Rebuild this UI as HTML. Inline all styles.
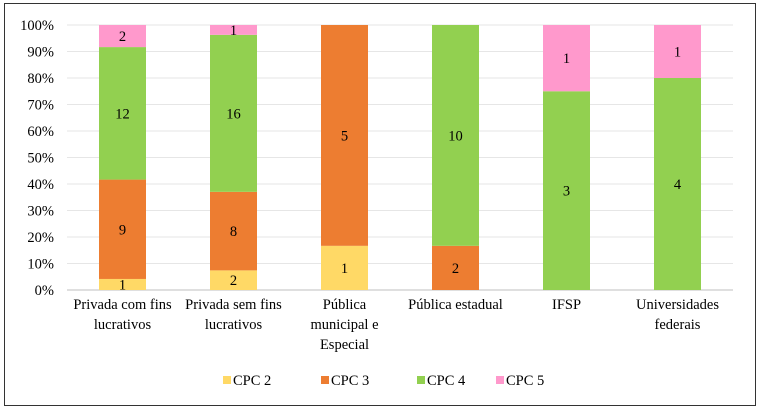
<!DOCTYPE html>
<html><head><meta charset="utf-8"><style>
body{margin:0;background:#fff;}
svg text{font-family:"Liberation Serif",serif;font-size:14.5px;fill:#000;}
</style></head><body>
<svg id="c" width="758" height="409" xmlns="http://www.w3.org/2000/svg">
<rect x="4.5" y="3.5" width="751" height="402" fill="#fff" stroke="#333"/>
<g id="grid"></g><g id="bars"></g><g id="labels"></g><g id="legend"></g>
</svg>
<script>
const categories=[["Privada com fins","lucrativos"],["Privada sem fins","lucrativos"],["Pública","municipal e","Especial"],["Pública estadual"],["IFSP"],["Universidades","federais"]];
const seriesNames=["CPC 2","CPC 3","CPC 4","CPC 5"];
const cpc2=[1,2,1,0,0,0];
const cpc3=[9,8,5,2,0,0];
const cpc4=[12,16,0,10,3,4];
const cpc5=[2,1,0,0,1,1];
const yTicks=["0%","10%","20%","30%","40%","50%","60%","70%","80%","90%","100%"];
const colors=["#FFD966","#ED7D31","#92D050","#FF99CC"];
const series=[cpc2,cpc3,cpc4,cpc5];
const NS="http://www.w3.org/2000/svg";
const x0=67,x1=733,y0=290,y1=25;
const band=(x1-x0)/categories.length;
const xc=i=>x0+band*(i+0.5);
const yp=f=>y0-(y0-y1)*f;
function mk(tag,attrs,parent,txt){const e=document.createElementNS(NS,tag);for(const k in attrs)e.setAttribute(k,attrs[k]);if(txt!==undefined)e.textContent=txt;parent.appendChild(e);return e;}
const grid=document.getElementById('grid'),bars=document.getElementById('bars'),labels=document.getElementById('labels'),legend=document.getElementById('legend');
yTicks.forEach((t,i)=>{const y=yp(i/10);
const l=mk('line',{x1:x0,x2:x1,y1:y,y2:y,stroke:i==0?'#bfbfbf':'#e6e6e6'},grid);


const tx=mk('text',{x:54,y:y+5,'text-anchor':'end'},grid,t);

});
categories.forEach((c,i)=>{const tot=series.reduce((s,a)=>s+a[i],0);let acc=0;
series.forEach((a,k)=>{const v=a[i];if(!v)return;const ya=yp(acc/tot),yb=yp((acc+v)/tot);acc+=v;
const r=mk('rect',{x:xc(i)-23.5,y:yb,width:47,height:ya-yb,fill:colors[k]},bars);


const t=mk('text',{x:xc(i),y:(ya+yb)/2+5,'text-anchor':'middle'},labels,String(v));

});
c.forEach((line,j)=>{const t=mk('text',{x:xc(i),y:309+j*20,'text-anchor':'middle'},labels,line);

});});
const lx=[223,321,417,496];
seriesNames.forEach((n,k)=>{const r=mk('rect',{x:lx[k],y:376,width:8,height:8,fill:colors[k]},legend);


const t=mk('text',{x:lx[k]+10,y:385},legend,n);

});
</script>
</body></html>
